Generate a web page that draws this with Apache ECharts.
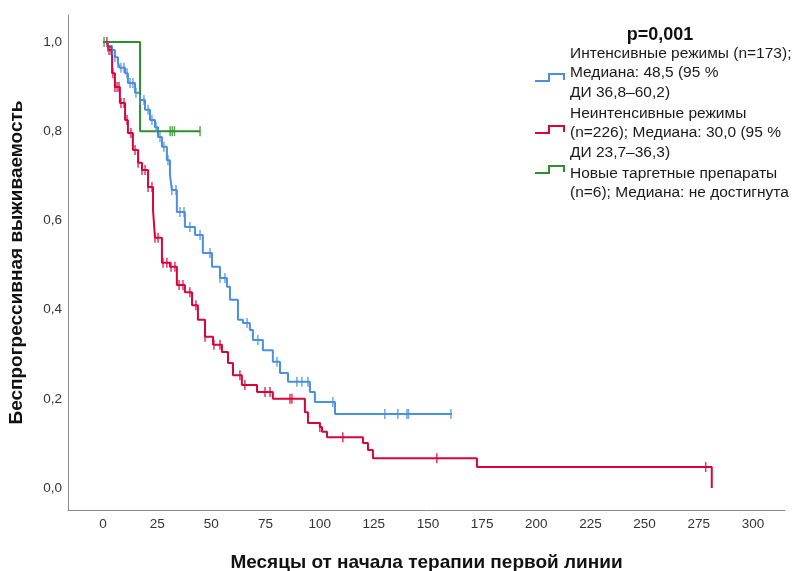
<!DOCTYPE html>
<html>
<head>
<meta charset="utf-8">
<script src="https://cdn.jsdelivr.net/npm/echarts@6/dist/echarts.min.js"></script>
<style>
  html, body { margin: 0; padding: 0; background: #fff; }
  #chart { width: 794px; height: 571px; }
</style>
</head>
<body>
<div id="chart"></div>
<script>
// ось X (месяцы) и ось Y (доля)
var xTicks = [0, 25, 50, 75, 100, 125, 150, 175, 200, 225, 250, 275, 300];
var yTicks = [0, 0.2, 0.4, 0.6, 0.8, 1.0];

// Интенсивные режимы
var intMonths = [0, 2.3, 4.2, 5.5, 6.9, 7.8, 10.2, 11.5, 14.8, 17.1, 19.4, 21.7, 24.0, 25.4, 27.2, 29.5, 30.9, 31.8, 34.1, 37.8, 42.5, 46.1, 50.3, 54.0, 57.2, 58.6, 62.3, 64.6, 67.8, 69.2, 73.8, 78.4, 81.7, 85.4, 95.5, 97.8, 107.1, 161];
var intSurv = [1.0, 0.989, 0.982, 0.966, 0.953, 0.942, 0.930, 0.908, 0.886, 0.870, 0.848, 0.825, 0.809, 0.787, 0.765, 0.735, 0.702, 0.668, 0.619, 0.585, 0.567, 0.527, 0.496, 0.471, 0.451, 0.422, 0.377, 0.370, 0.354, 0.332, 0.309, 0.283, 0.258, 0.238, 0.215, 0.193, 0.166, 0.166];
var intCensored = [2.3, 4.2, 5.5, 6.9, 8.3, 9.7, 11.1, 12.5, 13.8, 15.2, 17.1, 18.9, 20.8, 22.6, 24.5, 26.3, 28.1, 30.0, 31.8, 33.7, 35.5, 37.4, 40.1, 44.8, 49.4, 54.0, 56.3, 66.5, 71.5, 80.3, 89.5, 91.8, 94.6, 106.1, 130.1, 136.1, 140.3, 141.0, 160.6];

// Неинтенсивные режимы
var nonMonths = [0, 2.3, 4.2, 5.5, 7.8, 10.2, 11.5, 13.8, 16.2, 18.0, 20.8, 23.1, 24.0, 27.2, 30.9, 34.1, 37.8, 41.1, 43.8, 47.1, 50.8, 54.9, 57.7, 60.0, 64.1, 71.1, 78.4, 93.2, 94.6, 100.1, 101.1, 103.4, 120.0, 122.3, 124.6, 172.6, 281.0];
var nonSurv = [1.0, 0.982, 0.930, 0.899, 0.863, 0.825, 0.796, 0.758, 0.729, 0.713, 0.675, 0.623, 0.561, 0.505, 0.496, 0.455, 0.439, 0.410, 0.377, 0.339, 0.321, 0.305, 0.280, 0.253, 0.231, 0.215, 0.200, 0.170, 0.146, 0.137, 0.126, 0.114, 0.101, 0.085, 0.067, 0.047, 0.0];
var nonCensored = [1.8, 2.8, 3.7, 4.6, 5.5, 6.5, 7.4, 8.3, 9.7, 11.1, 12.9, 14.8, 16.2, 18.0, 19.4, 20.8, 22.6, 24.0, 25.4, 27.7, 29.5, 31.4, 33.2, 35.1, 36.9, 40.1, 42.9, 47.1, 51.2, 54.0, 63.2, 65.5, 74.8, 77.1, 86.3, 87.2, 100.1, 110.7, 154.1, 278.2];

// Новые таргетные препараты
var tarMonths = [0, 17.1, 44.8];
var tarSurv = [1.0, 0.8, 0.8];
var tarCensored = [0.5, 31.0, 32.0, 33.0, 44.8];

var blue = '#4a8fe0';
var red = '#d8043c';
var green = '#2f8f2f';

function zip(a, b) {
    return a.map(function (v, i) { return [v, b[i]]; });
}
// значение кривой в момент t (ступенчатая функция)
function survAt(months, surv, t) {
    var s = surv[0];
    for (var i = 0; i < months.length; i++) {
        if (months[i] <= t) s = surv[i];
    }
    return s;
}
function marks(months, surv, cens) {
    return cens.map(function (t) { return [t, survAt(months, surv, t)]; });
}
function fmt(v) {
    return v.toFixed(1).replace('.', ',');
}

var lineSeries = function (name, months, surv, color) {
    return {
        name: name, type: 'line', step: 'end', symbol: 'none',
        data: zip(months, surv),
        lineStyle: { color: color, width: 2 },
        z: 2
    };
};
var markSeries = function (months, surv, cens, color) {
    return {
        type: 'scatter', symbol: 'rect', symbolSize: [1.5, 10],
        data: marks(months, surv, cens),
        itemStyle: { color: color },
        z: 3
    };
};

var chart = echarts.init(document.getElementById('chart'));
var txt = { fontFamily: 'Liberation Sans, Arial, sans-serif', fontSize: 15.5, fill: '#1a1a1a' };

chart.setOption({
    animation: false,
    grid: { left: 68, right: 9, top: 15, bottom: 61, containLabel: false, outerBoundsMode: 'none' },
    xAxis: {
        type: 'value', min: -16.15, max: 314.8,
        name: 'Месяцы от начала терапии первой линии',
        nameLocation: 'middle', nameGap: 43,
        nameTextStyle: { fontFamily: 'Liberation Sans, Arial', fontWeight: 'bold', fontSize: 19, color: '#111' },
        axisLine: { onZero: false, lineStyle: { color: '#8a8a8a', width: 1 } },
        axisTick: { show: false },
        splitLine: { show: false },
        axisLabel: {
            customValues: xTicks, margin: 7,
            fontFamily: 'Liberation Sans, Arial', fontSize: 13.5, color: '#333'
        }
    },
    yAxis: {
        type: 'value', min: -0.0493, max: 1.0605,
        name: 'Беспрогрессивная выживаемость',
        nameLocation: 'middle', nameGap: 42, nameRotate: 90,
        nameTextStyle: { fontFamily: 'Liberation Sans, Arial', fontWeight: 'bold', fontSize: 19, color: '#111' },
        axisLine: { onZero: false, lineStyle: { color: '#8a8a8a', width: 1 } },
        axisTick: { show: false },
        splitLine: { show: false },
        axisLabel: {
            customValues: yTicks, margin: 6, formatter: fmt,
            fontFamily: 'Liberation Sans, Arial', fontSize: 13.5, color: '#333'
        }
    },
    series: [
        lineSeries('Интенсивные режимы', intMonths, intSurv, blue),
        lineSeries('Неинтенсивные режимы', nonMonths, nonSurv, red),
        lineSeries('Новые таргетные препараты', tarMonths, tarSurv, green),
        markSeries(intMonths, intSurv, intCensored, blue),
        markSeries(nonMonths, nonSurv, nonCensored, red),
        markSeries(tarMonths, tarSurv, tarCensored, green)
    ],
    graphic: [
        { type: 'text', x: 660, y: 35, style: { text: 'p=0,001', font: 'bold 18px Liberation Sans, Arial', fill: '#111', align: 'center', verticalAlign: 'middle' } },
        { type: 'text', left: 570, top: 44, style: Object.assign({}, txt, { lineHeight: 19.3, text: 'Интенсивные режимы (n=173);\nМедиана: 48,5 (95 %\nДИ 36,8–60,2)' }) },
        { type: 'text', left: 570, top: 104, style: Object.assign({}, txt, { lineHeight: 19.3, text: 'Неинтенсивные режимы\n(n=226); Медиана: 30,0 (95 %\nДИ 23,7–36,3)' }) },
        { type: 'text', left: 570, top: 164, style: Object.assign({}, txt, { lineHeight: 19.3, text: 'Новые таргетные препараты\n(n=6); Медиана: не достигнута' }) },
        { type: 'polyline', shape: { points: [[535, 81], [549, 81], [549, 74], [564, 74], [564, 80]] }, style: { stroke: blue, lineWidth: 2, fill: null } },
        { type: 'polyline', shape: { points: [[535, 133], [549, 133], [549, 126], [564, 126], [564, 132]] }, style: { stroke: red, lineWidth: 2, fill: null } },
        { type: 'polyline', shape: { points: [[535, 173], [549, 173], [549, 166], [564, 166], [564, 172]] }, style: { stroke: green, lineWidth: 2, fill: null } }
    ]
});
</script>
</body>
</html>
